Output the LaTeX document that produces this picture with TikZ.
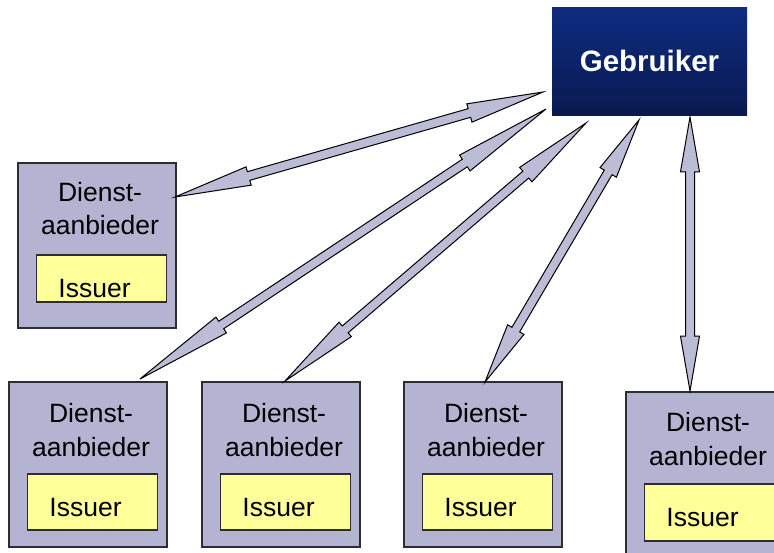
\documentclass[tikz,border=0pt]{standalone}
\usepackage{fontspec}
\setmainfont{Liberation Sans}
\usetikzlibrary{calc}
\definecolor{boxfill}{RGB}{180,180,210}
\definecolor{boxline}{RGB}{45,45,50}
\definecolor{issuerfill}{RGB}{255,255,153}
\definecolor{arrowfill}{RGB}{188,188,214}
\definecolor{gebtop}{RGB}{14,44,128}
\definecolor{gebbot}{RGB}{10,26,80}
\tikzset{
  dabox/.style={draw=boxline, fill=boxfill, line width=1.5pt, inner sep=0pt, outer sep=0pt,
    minimum width=158pt, minimum height=165pt},
  issuerbox/.style={draw=boxline, fill=issuerfill, line width=1.2pt, inner sep=0pt, outer sep=0pt,
    minimum width=130pt},
  datext/.style={inner sep=0pt, outer sep=0pt, align=center,
    font=\fontsize{26.5}{33.5}\selectfont, text=black},
  gebbox/.style={top color=gebtop, bottom color=gebbot, draw=none, inner sep=0pt, outer sep=0pt,
    minimum width=195pt, minimum height=108pt, text=white,
    font=\fontsize{29.5}{34}\selectfont\bfseries},
  fatarrow/.style={draw=black, fill=arrowfill, line width=1pt, line join=miter},
}
% #1 name, #2 left, #3 top, #4 yellow height, #5 baseline offset of the last text line
\newcommand\provider[5]{%
  \node[dabox, anchor=north west] (#1) at (#2,#3) {};
  \node[datext, anchor=base] (#1t) at ($(#1.north)+(3,#5)$) {Dienst-\\aanbieder};
  \node[issuerbox, anchor=north west, minimum height=#4] (#1i) at ($(#1.north west)+(18.5,92)$) {};
  \node[datext, anchor=base] (#1s) at ($(#1i.north)+(-7,42)$) {Issuer};
}
\newcommand\fatarr[2]{%
  \draw[fatarrow] (#1)
   -- ($(#1)!0.2!(#2)!9.5pt!90:(#2)$)
   -- ($(#1)!0.2!(#2)!4.5pt!90:(#2)$)
   -- ($(#2)!0.2!(#1)!4.5pt!-90:(#1)$)
   -- ($(#2)!0.2!(#1)!9.5pt!-90:(#1)$)
   -- (#2)
   -- ($(#2)!0.2!(#1)!9.5pt!90:(#1)$)
   -- ($(#2)!0.2!(#1)!4.5pt!90:(#1)$)
   -- ($(#1)!0.2!(#2)!4.5pt!-90:(#2)$)
   -- ($(#1)!0.2!(#2)!9.5pt!-90:(#2)$)
   -- cycle;}
\begin{document}
\begin{tikzpicture}[x=1pt, y=-1pt]
\useasboundingbox (0,0) rectangle (774,552);
\clip (0,0) rectangle (774,552);
\fill[white] (0,0) rectangle (774,552);

\node[gebbox, anchor=north west] (geb) at (552,7) {Gebruiker};

\provider{p1}{18}{163}{47pt}{71.5}
\provider{p2}{9}{382}{56pt}{74}
\provider{p3}{202}{382}{56pt}{74}
\provider{p4}{404}{382}{56pt}{74}
\provider{p5}{626}{392}{57pt}{73}

% arrow tips
\coordinate (t1a) at (175,197);  \coordinate (t1b) at (543,92);
\coordinate (t2a) at (140,379);  \coordinate (t2b) at (546,109);
\coordinate (t3a) at (285,381);  \coordinate (t3b) at (586,123);
\coordinate (t4a) at (485,382);  \coordinate (t4b) at (639,120);
\coordinate (t5a) at (690,391);  \coordinate (t5b) at (690,117);

\fatarr{t1a}{t1b}
\fatarr{t2a}{t2b}
\fatarr{t3a}{t3b}
\fatarr{t4a}{t4b}
\fatarr{t5a}{t5b}
\end{tikzpicture}
\end{document}
